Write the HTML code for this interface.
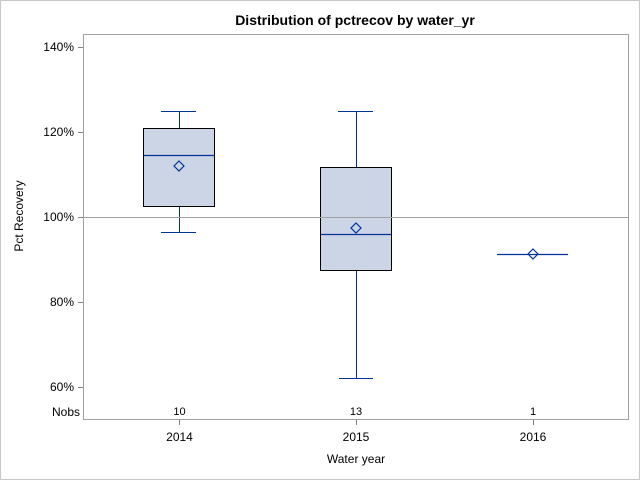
<!DOCTYPE html>
<html><head><style>body{margin:0;background:#fff}svg{display:block}</style></head><body>
<svg width="640" height="480" xmlns="http://www.w3.org/2000/svg" font-family="Liberation Sans, Arial, sans-serif">
<rect x="0.5" y="0.5" width="639" height="479" fill="#fff" stroke="#c8c8c8"/>
<text x="355" y="25" text-anchor="middle" font-size="14" font-weight="bold">Distribution of pctrecov by water_yr</text>
<rect x="83.5" y="34.5" width="545" height="385" fill="none" stroke="#a0a0a0"/>
<g stroke="#808080">
<line x1="78" y1="47.5" x2="83" y2="47.5"/><line x1="78" y1="132.5" x2="83" y2="132.5"/>
<line x1="78" y1="217.5" x2="83" y2="217.5"/><line x1="78" y1="302.5" x2="83" y2="302.5"/>
<line x1="78" y1="387.5" x2="83" y2="387.5"/>
<line x1="179.5" y1="420" x2="179.5" y2="425"/><line x1="356.5" y1="420" x2="356.5" y2="425"/><line x1="533.5" y1="420" x2="533.5" y2="425"/>
</g>
<g font-size="12" text-anchor="end" fill="#000">
<text x="74" y="51">140%</text><text x="74" y="136">120%</text><text x="74" y="221">100%</text>
<text x="74" y="306">80%</text><text x="74" y="391">60%</text>
<text x="80" y="416">Nobs</text>
</g>
<g font-size="11" text-anchor="middle">
<text x="179.5" y="415">10</text><text x="356" y="415">13</text><text x="533" y="415">1</text>
</g>
<g font-size="12" text-anchor="middle">
<text x="179.5" y="441">2014</text><text x="356" y="441">2015</text><text x="533" y="441">2016</text>
<text x="356" y="463">Water year</text>
</g>
<text transform="translate(23,216) rotate(-90)" font-size="12" text-anchor="middle">Pct Recovery</text>
<g stroke="#003399" stroke-width="1" fill="none">
<line x1="179.5" y1="111.5" x2="179.5" y2="232"/><line x1="161" y1="111.5" x2="196" y2="111.5"/><line x1="161" y1="232.5" x2="196" y2="232.5"/>
<line x1="356.5" y1="111.5" x2="356.5" y2="378"/><line x1="338" y1="111.5" x2="373" y2="111.5"/><line x1="339" y1="378.5" x2="373" y2="378.5"/>
</g>
<rect x="143.5" y="128.5" width="71" height="78" fill="#cbd5e5" stroke="#000"/>
<rect x="320.5" y="167.5" width="71" height="103" fill="#cbd5e5" stroke="#000"/>
<line x1="84" y1="217.5" x2="628" y2="217.5" stroke="#a0a0a0"/>
<g stroke="#003399" stroke-width="1.2" fill="none">
<line x1="144" y1="155.5" x2="214" y2="155.5"/>
<line x1="321" y1="234.5" x2="391" y2="234.5"/>
<line x1="497" y1="254.5" x2="568" y2="254.5"/>
<path d="M179 161l5 5-5 5-5-5z"/>
<path d="M356 223l5 5-5 5-5-5z"/>
<path d="M533 249l5 5-5 5-5-5z"/>
</g>
</svg>
</body></html>
